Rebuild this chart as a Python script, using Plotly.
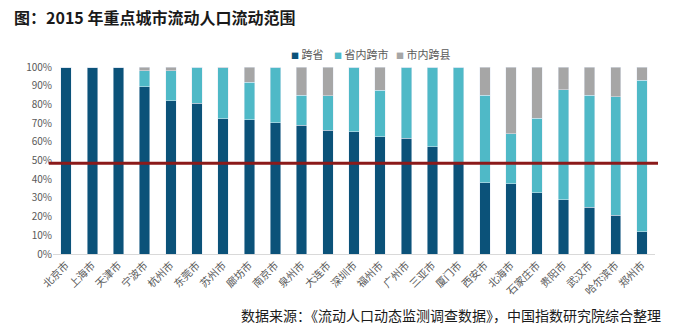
import plotly.graph_objects as go

cities = ["北京市", "上海市", "天津市", "宁波市", "杭州市", "东莞市", "苏州市", "廊坊市",
          "南京市", "泉州市", "大连市", "深圳市", "福州市", "广州市", "三亚市", "厦门市",
          "西安市", "北海市", "石家庄市", "贵阳市", "武汉市", "哈尔滨市", "郑州市"]
kuasheng = [100, 100, 100, 89.5, 82.0, 80.6, 72.4, 71.7, 70.2, 68.8, 66.3, 65.4, 62.7,
            62.0, 57.4, 48.5, 38.1, 37.6, 32.8, 28.9, 25.1, 20.7, 11.8]
shengnei = [0, 0, 0, 8.5, 16.0, 19.4, 27.3, 20.1, 29.8, 16.2, 18.4, 34.6, 24.8,
            38.0, 42.6, 51.5, 46.7, 26.7, 39.7, 59.0, 59.7, 63.3, 81.2]
shinei = [0, 0, 0, 2.0, 2.0, 0, 0.3, 8.2, 0, 15.0, 15.3, 0, 12.5,
          0, 0, 0, 15.2, 35.7, 27.5, 12.1, 15.2, 16.0, 7.0]
series_names = ["跨省", "省内跨市", "市内跨县"]
series_colors = ["#0B5279", "#4FB9C7", "#A6A6A6"]
ref_line = 48.5
ytick_vals = list(range(0, 101, 10))
ytick_text = [f"{v}%" for v in ytick_vals]

fig = go.Figure()
for name, vals, col in zip(series_names, [kuasheng, shengnei, shinei], series_colors):
    fig.add_trace(go.Bar(x=cities, y=vals, name=name, marker_color=col))

fig.add_shape(type="line", xref="paper", yref="y", x0=-0.007, x1=1.005,
              y0=ref_line, y1=ref_line, line=dict(color="#8B1A1A", width=3))

fig.update_layout(
    width=677, height=334,
    margin=dict(l=53, r=22, t=67, b=80),
    barmode="stack", bargap=0.6,
    plot_bgcolor="white", paper_bgcolor="white",
    font=dict(family="Noto Sans CJK SC, sans-serif", color="#595959", size=10),
    showlegend=False,
    xaxis=dict(tickangle=-45, showgrid=False, showline=True, linecolor="#D9D9D9",
               ticks="", tickfont=dict(size=10.5, color="#595959")),
    yaxis=dict(range=[0, 100], tickvals=ytick_vals, ticktext=ytick_text, showgrid=False,
               zeroline=False, showline=False, tickfont=dict(size=10, color="#595959")),
)

# legend drawn as text entries
legend_x = [289, 332, 394]
for name, col, px in zip(series_names, series_colors, legend_x):
    fig.add_annotation(text=f"<span style='color:{col};font-size:8px'>■</span> {name}",
                       xref="paper", yref="paper", x=(px - 53) / 602,
                       y=1.0 + (67 - 54) / 187, xanchor="left", yanchor="middle",
                       showarrow=False, font=dict(size=11, color="#595959"))

fig.add_annotation(text="<b>图：2015 年重点城市流动人口流动范围</b>", xref="paper", yref="paper",
                   x=-0.068, y=1.0 + (67 - 17) / 187, xanchor="left", yanchor="middle",
                   showarrow=False, font=dict(size=16, color="#1a1a1a",
                                              family="Noto Sans CJK SC, sans-serif"))
fig.add_annotation(text="数据来源：《流动人口动态监测调查数据》，中国指数研究院综合整理",
                   xref="paper", yref="paper", x=(451 - 53) / 602, y=-(315 - 254) / 187,
                   xanchor="center", yanchor="middle", showarrow=False,
                   font=dict(size=14, color="#1a1a1a", family="Noto Sans CJK SC, sans-serif"))

fig.write_html("out.html")
